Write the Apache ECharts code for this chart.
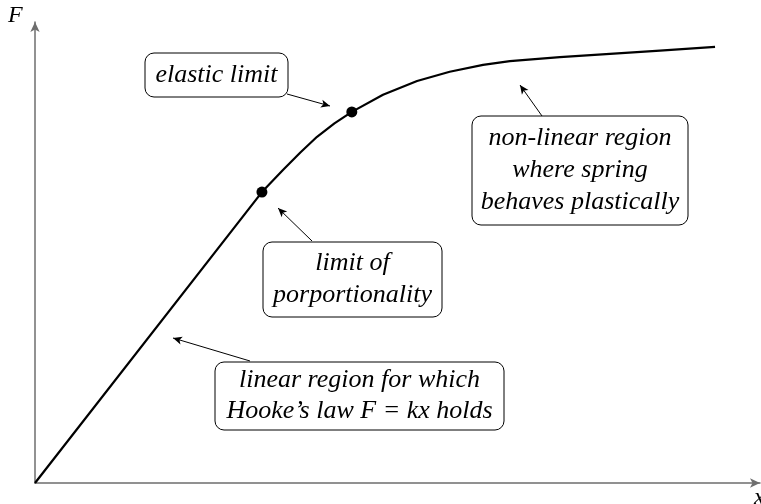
<html lang="en">
<head>
    <meta charset="UTF-8">
    <script src="https://cdn.jsdelivr.net/npm/echarts@6/dist/echarts.min.js"></script>
    <title>Spring force vs extension</title>
    <style>
      body { margin: 0; background: #fff; }
    </style>
</head>
<body>

<div id="main" style="width: 761px;height:504px;"></div>

<script>
  // curve (arbitrary units, axis runs 0..100)
  var curveX = [0, 31.3, 34.2, 36.6, 38.9, 41.3, 43.7, 48.0, 52.7, 57.2, 61.8, 65.5, 72.4, 79.3, 86.2, 93.8];
  var curveF = [0, 63.1, 67.9, 71.7, 75.1, 78.0, 80.5, 84.2, 87.2, 89.2, 90.7, 91.5, 92.4, 93.1, 93.8, 94.6];

  // the two marked points: limit of proportionality, elastic limit
  var dotX = [31.3, 43.7];
  var dotF = [63.1, 80.5];

  var serif = '"Liberation Serif", "DejaVu Serif", serif';

  // annotation boxes
  function box(x, y, w, h, lines, lineGap) {
    var kids = [{
      type: 'rect',
      shape: { x: x, y: y, width: w, height: h, r: 9 },
      style: { fill: '#fff', stroke: '#000', lineWidth: 1 }
    }];
    var top = y + h / 2 - (lines.length - 1) * lineGap / 2;
    lines.forEach(function (t, i) {
      kids.push({
        type: 'text',
        x: x + w / 2,
        y: top + i * lineGap,
        style: {
          text: t, font: 'italic 26px ' + serif, fill: '#000',
          textAlign: 'center', textVerticalAlign: 'middle'
        }
      });
    });
    return { type: 'group', children: kids };
  }

  var myChart = echarts.init(document.getElementById('main'));

  var axisLine = {
    show: true,
    symbol: ['none', 'arrow'],
    symbolSize: [7, 10],
    lineStyle: { color: '#6e6e6e', width: 1.5 }
  };

  var option = {
    animation: false,
    grid: { left: 35, right: 1, top: 22, bottom: 21 },
    xAxis: {
      type: 'value', min: 0, max: 100,
      axisLine: axisLine, axisTick: { show: false },
      axisLabel: { show: false }, splitLine: { show: false }
    },
    yAxis: {
      type: 'value', min: 0, max: 100,
      axisLine: axisLine, axisTick: { show: false },
      axisLabel: { show: false }, splitLine: { show: false }
    },
    series: [{
      type: 'line',
      data: curveX.map(function (x, i) { return [x, curveF[i]]; }),
      smooth: false,
      showSymbol: false,
      lineStyle: { color: '#000', width: 2.2, join: 'round' },
      markLine: {
        silent: true,
        symbol: ['none', 'arrow'],
        symbolSize: [6, 9],
        label: { show: false },
        lineStyle: { color: '#000', width: 1, type: 'solid' },
        data: [
          [{ x: 287, y: 94 }, { x: 330, y: 106 }],
          [{ x: 312, y: 241 }, { x: 278, y: 208 }],
          [{ x: 250, y: 361 }, { x: 173, y: 338 }],
          [{ x: 542, y: 116 }, { x: 520, y: 85 }]
        ]
      }
    }, {
      type: 'scatter',
      data: dotX.map(function (x, i) { return [x, dotF[i]]; }),
      symbolSize: 11,
      itemStyle: { color: '#000', opacity: 1 },
      z: 5
    }],
    graphic: [
      { type: 'text', left: 8, top: 4,
        style: { text: 'F', font: 'italic 24px ' + serif, fill: '#000' } },
      { type: 'text', x: 754, y: 486,
        style: { text: 'x', font: 'italic 24px ' + serif, fill: '#000' } },
      box(145, 53, 143, 44, ['elastic limit'], 30),
      box(263, 242, 179, 75, ['limit of', 'porportionality'], 32),
      box(215, 362, 289, 68, ['linear region for which', 'Hooke\u2019s law F = kx holds'], 31),
      box(472, 116, 216, 109, ['non-linear region', 'where spring', 'behaves plastically'], 32)
    ]
  };

  myChart.setOption(option);
</script>

</body>
</html>
